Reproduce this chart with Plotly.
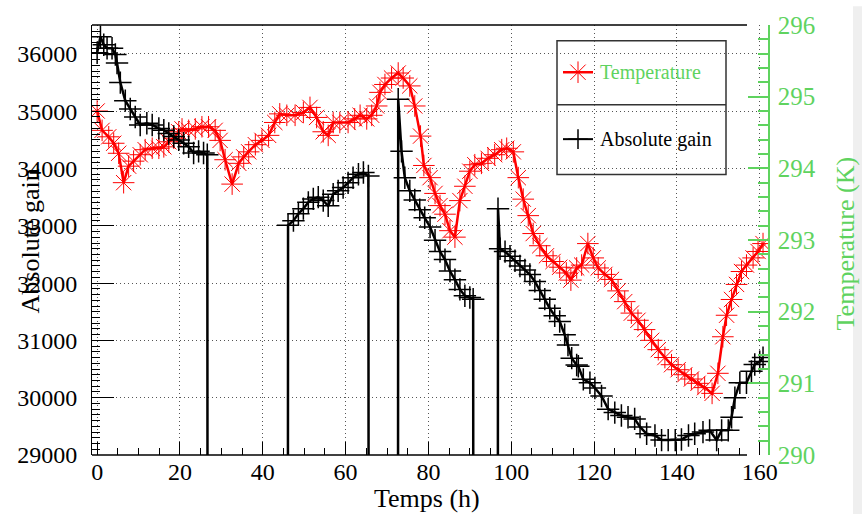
import plotly.graph_objects as go

# ---------------- data ----------------
hours_temp = [0, 1.2, 2.8, 4.0, 5.2, 6.4, 7.6, 8.8, 10.4, 11.6, 13.3, 14.9, 16.1, 17.3, 18.5,
              19.7, 20.5, 22.1, 23.7, 25.3, 26.9, 28.5, 29.7, 30.9, 32.6, 34.2, 35.4, 36.6, 38.2,
              39.8, 41.4, 42.9, 44.1, 45.8, 47.8, 49.8, 51.4, 53.0, 54.6, 55.8, 57.0, 58.6, 60.6,
              62.2, 63.5, 65.1, 66.3, 67.5, 68.3, 69.5, 71.1, 72.7, 73.9, 75.5, 76.7, 78.1, 78.9,
              80.4, 81.6, 82.8, 84.0, 85.2, 86.4, 87.6, 88.8, 90.0, 91.2, 92.8, 94.4, 96.0, 97.7,
              98.9, 100.5, 101.7, 102.9, 104.1, 105.3, 106.9, 108.5, 110.1, 111.7, 113.3, 114.4,
              115.8, 117.0, 118.5, 119.8, 121.0, 122.6, 124.2, 125.8, 127.4, 129.0, 130.6, 132.2,
              133.9, 135.5, 137.1, 138.7, 140.3, 141.9, 143.5, 145.1, 146.7, 148.5, 149.9, 151.1,
              152.0, 153.2, 154.4, 155.6, 156.8, 158.4, 159.6, 160.8]
temperature_K = [294.80, 294.53, 294.44, 294.35, 294.21, 293.80, 294.03, 294.10, 294.19, 294.26,
                 294.28, 294.28, 294.30, 294.37, 294.42, 294.51, 294.55, 294.53, 294.55, 294.58,
                 294.58, 294.53, 294.39, 294.12, 293.78, 294.07, 294.16, 294.23, 294.33, 294.39,
                 294.46, 294.64, 294.76, 294.74, 294.74, 294.78, 294.85, 294.71, 294.51, 294.46,
                 294.64, 294.64, 294.64, 294.69, 294.74, 294.69, 294.74, 294.87, 295.06, 295.17,
                 295.26, 295.33, 295.26, 295.15, 294.87, 294.45, 294.04, 293.87, 293.65, 293.48,
                 293.36, 293.13, 293.04, 293.55, 293.75, 293.96, 294.05, 294.07, 294.14, 294.19,
                 294.26, 294.28, 294.23, 293.87, 293.57, 293.34, 293.09, 292.92, 292.78, 292.70,
                 292.62, 292.54, 292.44, 292.61, 292.65, 292.95, 292.75, 292.61, 292.52, 292.45,
                 292.29, 292.14, 291.98, 291.88, 291.75, 291.60, 291.47, 291.36, 291.26, 291.19,
                 291.12, 291.06, 291.00, 290.94, 290.86, 291.14, 291.65, 291.95, 292.17, 292.38,
                 292.56, 292.65, 292.75, 292.84, 292.95]

hours_gain = [0.0, 0.8, 1.6, 2.4, 3.6, 4.4, 4.8, 5.6, 6.8, 8.0, 9.2, 10.4, 12.0, 13.3, 14.9, 16.1,
              17.3, 18.5, 19.7, 20.9, 22.1, 23.3, 24.5, 25.7, 26.6, 26.9, 45.9, 46.1, 47.4, 48.6,
              49.8, 51.0, 52.2, 53.4, 54.6, 55.8, 57.0, 58.2, 59.4, 60.6, 61.8, 63.1, 64.3, 65.5,
              65.8, 72.5, 72.7, 73.5, 74.3, 75.5, 76.7, 77.9, 79.1, 80.4, 81.6, 82.8, 84.0, 85.2,
              86.4, 87.6, 88.8, 90.0, 90.8, 91.1, 96.6, 96.8, 97.3, 98.5, 99.7, 100.9, 102.1,
              103.3, 104.5, 105.7, 106.9, 108.1, 109.3, 110.5, 111.7, 112.9, 113.7, 114.6, 115.8,
              116.2, 117.4, 119.0, 120.2, 121.8, 123.4, 125.0, 126.6, 128.2, 129.8, 131.1, 132.7,
              134.7, 136.3, 137.9, 139.6, 141.1, 142.8, 144.3, 146.3, 147.9, 149.6, 150.8, 152.4,
              153.2, 154.0, 155.2, 156.8, 158.0, 158.8, 160.0, 160.8]
absolute_gain = [36020, 36300, 36160, 36100, 36100, 35990, 35840, 35500, 35185, 35040, 34900,
                 34760, 34790, 34760, 34700, 34670, 34610, 34560, 34500, 34440, 34380, 34270,
                 34300, 34270, 34240, 0, 0, 33010, 33090, 33210, 33300, 33410, 33470, 33500,
                 33440, 33350, 33550, 33610, 33670, 33750, 33840, 33900, 33930, 33870, 0, 0,
                 35210, 34300, 33840, 33610, 33450, 33280, 33140, 32980, 32750, 32550, 32410,
                 32210, 32060, 31890, 31780, 31750, 31720, 0, 0, 33300, 32600, 32550, 32470,
                 32390, 32300, 32230, 32150, 32030, 31870, 31720, 31560, 31430, 31330, 31100,
                 30920, 30690, 30570, 30550, 30320, 30260, 30170, 30030, 29800, 29740, 29690,
                 29660, 29630, 29490, 29370, 29340, 29260, 29260, 29260, 29270, 29340, 29370,
                 29400, 29430, 29260, 29430, 29430, 29660, 30000, 30260, 30260, 30460, 30580,
                 30630, 30700]

x_ticks = [0, 20, 40, 60, 80, 100, 120, 140, 160]
gain_ticks = [29000, 30000, 31000, 32000, 33000, 34000, 35000, 36000]
temp_ticks = [290, 291, 292, 293, 294, 295, 296]

# ---------------- layout helpers (pixel -> paper) ----------------
W, H = 862, 514
L, R, T, B = 92, 768, 18, 455


def px(x):
    return (x - L) / (R - L)


def py(y):
    return (B - y) / (B - T)


GREEN = '#5fd35f'
FONT = 'Liberation Serif'
GRID_DASH = '1px,3px'
GRID_COLOR = '#555555'

red_marker = dict(symbol='asterisk-open', size=18, color='red', line=dict(color='red', width=1))
blk_marker = dict(symbol='cross-thin-open', size=16, color='black', line=dict(color='black', width=1.5))

fig = go.Figure()
fig.add_trace(go.Scatter(x=hours_temp, y=temperature_K, xaxis='x', yaxis='y', mode='lines+markers',
                         line=dict(color='red', width=2.5), marker=red_marker,
                         name='Temperature', showlegend=False))
fig.add_trace(go.Scatter(x=hours_gain, y=absolute_gain, xaxis='x', yaxis='y2', mode='lines+markers',
                         line=dict(color='black', width=2.5), marker=blk_marker,
                         name='Absolute gain', showlegend=False))

# legend glyph markers on an invisible overlay (paper-like) axis
fig.add_trace(go.Scatter(x=[px(578)], y=[py(66)], xaxis='x3', yaxis='y3', mode='markers',
                         marker=red_marker, showlegend=False, cliponaxis=False, hoverinfo='skip'))
fig.add_trace(go.Scatter(x=[px(578)], y=[py(134)], xaxis='x3', yaxis='y3', mode='markers',
                         marker=dict(symbol='cross-thin-open', size=14, color='black',
                                     line=dict(color='black', width=1.5)),
                         showlegend=False, cliponaxis=False, hoverinfo='skip'))

tickfont = dict(family=FONT, size=24, color='black')

fig.update_layout(
    width=W, height=H,
    margin=dict(l=L, r=W - R, t=T, b=H - B, pad=0),
    paper_bgcolor='white', plot_bgcolor='white',
    showlegend=False,
    font=dict(family=FONT, color='black'),
    xaxis=dict(domain=[0, 1], range=[-1.24, 162.0], anchor='y2',
               tickmode='array', tickvals=x_ticks, ticktext=[str(v) for v in x_ticks],
               ticks='inside', ticklen=13, tickwidth=1, tickcolor='black',
               minor=dict(tick0=0, dtick=5, ticks='inside', ticklen=7, tickwidth=1,
                          tickcolor='black', showgrid=False),
               showgrid=True, gridcolor=GRID_COLOR, griddash=GRID_DASH, gridwidth=1,
               showline=False, zeroline=False, tickfont=tickfont, ticklabelstandoff=0),
    yaxis=dict(domain=[0, 1], range=[290, 296], side='right', anchor='x',
               tickmode='array', tickvals=temp_ticks, ticktext=[str(v) for v in temp_ticks],
               ticks='inside', ticklen=20, tickwidth=1.5, tickcolor=GREEN,
               minor=dict(tick0=290, dtick=0.2, ticks='inside', ticklen=10, tickwidth=1.5,
                          tickcolor=GREEN, showgrid=False),
               showline=True, linecolor=GREEN, linewidth=1.5, showgrid=False, zeroline=False,
               tickfont=dict(family=FONT, size=25, color=GREEN), ticklabelstandoff=3),
    yaxis2=dict(domain=[0, 1], range=[29000, 36505], side='left', overlaying='y', anchor='x',
                tickmode='array', tickvals=gain_ticks, ticktext=[str(v) for v in gain_ticks],
                ticks='inside', ticklen=22, tickwidth=1, tickcolor='black',
                minor=dict(tick0=29000, dtick=100, ticks='inside', ticklen=8, tickwidth=1,
                           tickcolor='black', showgrid=False),
                showline=True, linecolor='black', linewidth=1,
                showgrid=True, gridcolor=GRID_COLOR, griddash=GRID_DASH, gridwidth=1,
                zeroline=False, tickfont=tickfont, ticklabelstandoff=9),
    xaxis3=dict(domain=[0, 1], range=[0, 1], overlaying='x', anchor='y3', visible=False),
    yaxis3=dict(domain=[0, 1], range=[0, 1], overlaying='y', anchor='x3', visible=False),
)

shapes = []
# frame lines (bottom and top) as in the reference
shapes.append(dict(type='line', xref='paper', yref='paper', x0=0, x1=px(747), y0=0, y1=0,
                   line=dict(color='black', width=1.5), layer='above'))
shapes.append(dict(type='line', xref='paper', yref='paper', x0=0, x1=px(747), y0=1, y1=1,
                   line=dict(color='black', width=1.5), layer='above'))
# light gray strip at the far right edge
shapes.append(dict(type='rect', xref='paper', yref='paper', x0=px(853), x1=px(863),
                   y0=py(515), y1=py(-1), fillcolor='#efefef', line=dict(width=0), layer='below'))
# legend box
shapes.append(dict(type='rect', xref='paper', yref='paper', x0=px(557), x1=px(726),
                   y0=py(170), y1=py(34), fillcolor='white',
                   line=dict(color='#333333', width=1.5), layer='between'))
shapes.append(dict(type='line', xref='paper', yref='paper', x0=px(557), x1=px(726),
                   y0=py(99), y1=py(99), line=dict(color='#333333', width=1.5), layer='between'))
shapes.append(dict(type='line', xref='paper', yref='paper', x0=px(563), x1=px(593),
                   y0=py(66), y1=py(66), line=dict(color='red', width=2.5), layer='between'))
shapes.append(dict(type='line', xref='paper', yref='paper', x0=px(563), x1=px(593),
                   y0=py(134), y1=py(134), line=dict(color='black', width=2), layer='between'))
fig.update_layout(shapes=shapes)

ann = []
ann.append(dict(text='Temps (h)', xref='paper', yref='paper', x=px(427), y=py(499),
                xanchor='center', yanchor='middle', showarrow=False,
                font=dict(family=FONT, size=26, color='black')))
ann.append(dict(text='Absolute gain', xref='paper', yref='paper', x=px(30), y=py(238),
                xanchor='center', yanchor='middle', showarrow=False, textangle=-90,
                font=dict(family=FONT, size=26, color='black')))
ann.append(dict(text='Temperature (K)', xref='paper', yref='paper', x=px(845), y=py(240),
                xanchor='center', yanchor='middle', showarrow=False, textangle=-90,
                font=dict(family=FONT, size=26, color=GREEN)))
ann.append(dict(text='Temperature', xref='paper', yref='paper', x=px(598), y=py(66),
                xanchor='left', yanchor='middle', showarrow=False,
                font=dict(family=FONT, size=20, color=GREEN)))
ann.append(dict(text='Absolute gain', xref='paper', yref='paper', x=px(598), y=py(134),
                xanchor='left', yanchor='middle', showarrow=False,
                font=dict(family=FONT, size=20, color='black')))
fig.update_layout(annotations=ann)

fig.write_html('out.html')
